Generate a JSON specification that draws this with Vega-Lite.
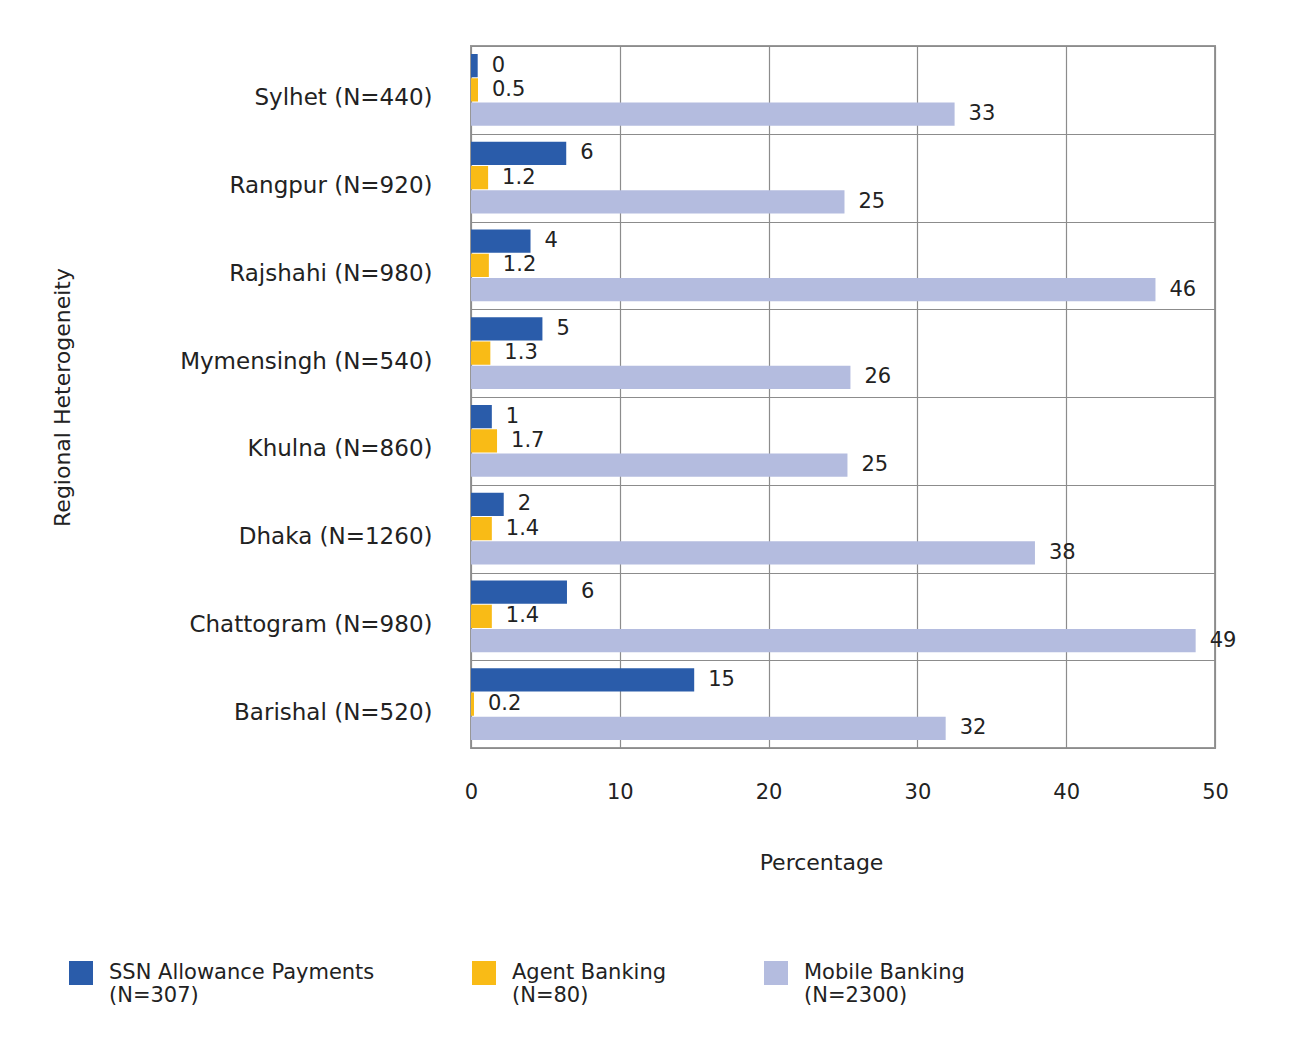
{
  "$schema": "https://vega.github.io/schema/vega-lite/v6.json",
  "autosize": {"type": "none"},
  "padding": {"left": 471, "top": 46, "right": 91, "bottom": 300},
  "width": 744,
  "height": 702,
  "background": "white",
  "config": {
    "font": "DejaVu Sans",
    "view": {"stroke": "#999999", "strokeWidth": 2},
    "axis": {"labelColor": "#222222", "titleColor": "#222222", "titleFontWeight": "normal", "gridColor": "#8c8c8c", "gridOpacity": 1, "gridWidth": 1.2}
  },
  "data": {
    "values": [
      {"region": "Sylhet (N=440)", "series": "SSN Allowance Payments (N=307)", "value": 0.45, "label": "0"},
      {"region": "Sylhet (N=440)", "series": "Agent Banking (N=80)", "value": 0.47, "label": "0.5"},
      {"region": "Sylhet (N=440)", "series": "Mobile Banking (N=2300)", "value": 32.5, "label": "33"},
      {"region": "Rangpur (N=920)", "series": "SSN Allowance Payments (N=307)", "value": 6.4, "label": "6"},
      {"region": "Rangpur (N=920)", "series": "Agent Banking (N=80)", "value": 1.15, "label": "1.2"},
      {"region": "Rangpur (N=920)", "series": "Mobile Banking (N=2300)", "value": 25.1, "label": "25"},
      {"region": "Rajshahi (N=980)", "series": "SSN Allowance Payments (N=307)", "value": 4.0, "label": "4"},
      {"region": "Rajshahi (N=980)", "series": "Agent Banking (N=80)", "value": 1.2, "label": "1.2"},
      {"region": "Rajshahi (N=980)", "series": "Mobile Banking (N=2300)", "value": 46.0, "label": "46"},
      {"region": "Mymensingh (N=540)", "series": "SSN Allowance Payments (N=307)", "value": 4.8, "label": "5"},
      {"region": "Mymensingh (N=540)", "series": "Agent Banking (N=80)", "value": 1.3, "label": "1.3"},
      {"region": "Mymensingh (N=540)", "series": "Mobile Banking (N=2300)", "value": 25.5, "label": "26"},
      {"region": "Khulna (N=860)", "series": "SSN Allowance Payments (N=307)", "value": 1.4, "label": "1"},
      {"region": "Khulna (N=860)", "series": "Agent Banking (N=80)", "value": 1.75, "label": "1.7"},
      {"region": "Khulna (N=860)", "series": "Mobile Banking (N=2300)", "value": 25.3, "label": "25"},
      {"region": "Dhaka (N=1260)", "series": "SSN Allowance Payments (N=307)", "value": 2.2, "label": "2"},
      {"region": "Dhaka (N=1260)", "series": "Agent Banking (N=80)", "value": 1.4, "label": "1.4"},
      {"region": "Dhaka (N=1260)", "series": "Mobile Banking (N=2300)", "value": 37.9, "label": "38"},
      {"region": "Chattogram (N=980)", "series": "SSN Allowance Payments (N=307)", "value": 6.45, "label": "6"},
      {"region": "Chattogram (N=980)", "series": "Agent Banking (N=80)", "value": 1.4, "label": "1.4"},
      {"region": "Chattogram (N=980)", "series": "Mobile Banking (N=2300)", "value": 48.7, "label": "49"},
      {"region": "Barishal (N=520)", "series": "SSN Allowance Payments (N=307)", "value": 15.0, "label": "15"},
      {"region": "Barishal (N=520)", "series": "Agent Banking (N=80)", "value": 0.2, "label": "0.2"},
      {"region": "Barishal (N=520)", "series": "Mobile Banking (N=2300)", "value": 31.9, "label": "32"}
    ]
  },
  "encoding": {
    "y": {
      "field": "region",
      "type": "nominal",
      "sort": ["Sylhet (N=440)", "Rangpur (N=920)", "Rajshahi (N=980)", "Mymensingh (N=540)", "Khulna (N=860)", "Dhaka (N=1260)", "Chattogram (N=980)", "Barishal (N=520)"],
      "scale": {"paddingInner": 0, "paddingOuter": 0},
      "axis": {
        "title": "Regional Heterogeneity",
        "titleFontSize": 22,
        "titleX": -409,
        "titleBaseline": "middle",
        "labelFontSize": 23,
        "labelPadding": 39,
        "labelOffset": 8,
        "labelLimit": 400,
        "ticks": false,
        "domain": false,
        "grid": true,
        "tickBand": "extent"
      }
    },
    "yOffset": {
      "field": "series",
      "type": "nominal",
      "sort": ["SSN Allowance Payments (N=307)", "Agent Banking (N=80)", "Mobile Banking (N=2300)"],
      "scale": {"paddingInner": 0.04, "paddingOuter": 0.33}
    },
    "x": {
      "field": "value",
      "type": "quantitative",
      "scale": {"domain": [0, 50], "nice": false},
      "axis": {
        "title": "Percentage",
        "titleFontSize": 22,
        "titlePadding": 50,
        "titleX": 350,
        "labelFontSize": 21,
        "labelPadding": 33,
        "labelFlush": false,
        "values": [0, 10, 20, 30, 40, 50],
        "ticks": false,
        "domain": false,
        "grid": true
      }
    }
  },
  "layer": [
    {
      "mark": {"type": "bar", "cornerRadius": 0},
      "encoding": {
        "color": {
          "field": "series",
          "type": "nominal",
          "scale": {
            "domain": ["SSN Allowance Payments (N=307)", "Agent Banking (N=80)", "Mobile Banking (N=2300)"],
            "range": ["#2a5caa", "#f9bb16", "#b4bcdf"]
          },
          "legend": {
            "title": null,
            "orient": "none",
            "legendX": -402,
            "legendY": 915,
            "direction": "horizontal",
            "columns": 3,
            "columnPadding": 97,
            "symbolType": "square",
            "symbolSize": 576,
            "symbolStrokeWidth": 0,
            "labelFontSize": 21,
            "labelColor": "#222222",
            "labelOffset": 16,
            "labelLimit": 400,
            "labelBaseline": "middle",
            "labelExpr": "[slice(datum.label, 0, indexof(datum.label, ' (')), slice(datum.label, indexof(datum.label, ' (') + 1)]"
          }
        }
      }
    },
    {
      "mark": {"type": "text", "align": "left", "baseline": "middle", "dx": 14, "fontSize": 21, "color": "#222222"},
      "encoding": {
        "text": {"field": "label", "type": "nominal"}
      }
    }
  ]
}
